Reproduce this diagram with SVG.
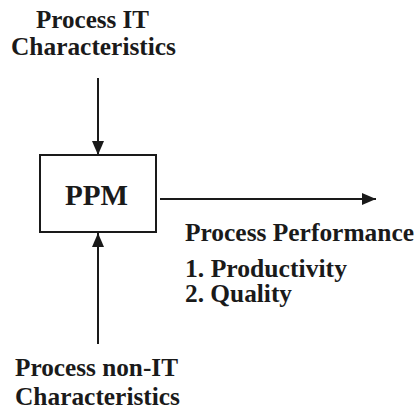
<svg xmlns="http://www.w3.org/2000/svg" width="418" height="411" viewBox="0 0 418 411">
<style>
text{font-family:"Liberation Serif","Times New Roman",serif;font-weight:bold;font-size:25px;fill:#1a1a1a}
.big{font-size:30px}
.ln{stroke:#1a1a1a;stroke-width:2;fill:none}
</style>
<defs>
<marker id="ahl" markerWidth="14" markerHeight="12" refX="14" refY="6" orient="auto" markerUnits="userSpaceOnUse" viewBox="0 0 14 12"><path d="M0,0 L14,6 L0,12 z" fill="#1a1a1a"/></marker>
</defs>
<rect width="418" height="411" fill="#fff"/>
<g id="connectors">
<line class="ln" x1="98" y1="78" x2="98" y2="155" marker-end="url(#ahl)"/>
<line class="ln" x1="160" y1="199" x2="376" y2="199" marker-end="url(#ahl)"/>
<line class="ln" x1="98" y1="344" x2="98" y2="233" marker-end="url(#ahl)"/>
</g>
<g id="it">
<text x="36" y="28" textLength="113" lengthAdjust="spacingAndGlyphs">Process IT</text>
<text x="11" y="55" textLength="165" lengthAdjust="spacingAndGlyphs">Characteristics</text>
</g>
<g id="ppm">
<rect x="40" y="155" width="116" height="77" class="ln"/>
<text class="big" x="65" y="205" textLength="63" lengthAdjust="spacingAndGlyphs">PPM</text>
</g>
<g id="performance">
<text x="185" y="241" textLength="229" lengthAdjust="spacingAndGlyphs">Process Performance</text>
<text x="185" y="277" textLength="162" lengthAdjust="spacingAndGlyphs">1. Productivity</text>
<text x="185" y="302" textLength="107" lengthAdjust="spacingAndGlyphs">2. Quality</text>
</g>
<g id="nonit">
<text x="15" y="376" textLength="163" lengthAdjust="spacingAndGlyphs">Process non-IT</text>
<text x="15" y="405" textLength="165" lengthAdjust="spacingAndGlyphs">Characteristics</text>
</g>
</svg>
